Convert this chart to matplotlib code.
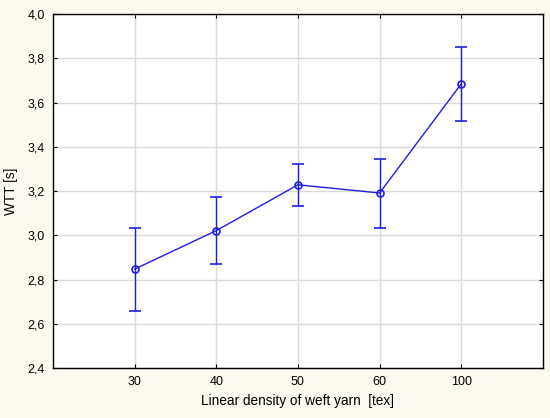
import matplotlib.pyplot as plt
from matplotlib.ticker import FuncFormatter

plt.rcParams['font.family'] = ['Liberation Sans', 'DejaVu Sans']

# data
categories = ['30', '40', '50', '60', '100']
wtt_mean = [2.847, 3.021, 3.228, 3.191, 3.684]
wtt_low = [2.659, 2.871, 3.132, 3.035, 3.517]
wtt_high = [3.032, 3.174, 3.323, 3.344, 3.852]

x = list(range(len(categories)))
err = [[m - lo for m, lo in zip(wtt_mean, wtt_low)],
       [hi - m for m, hi in zip(wtt_mean, wtt_high)]]

fig = plt.figure(figsize=(5.5, 4.18), dpi=100, facecolor='#fdf9ee')
ax = fig.add_axes([0.0964, 0.1196, 0.8906, 0.8469])
ax.set_facecolor('white')

line_col = '#1e1ee0'
ax.errorbar(x, wtt_mean, yerr=err, color=line_col, lw=1.0, elinewidth=1.0,
            capsize=4, capthick=1.0, marker='o', ms=5, mfc='none',
            mec=line_col, mew=1.2, zorder=3)

ax.set_xlim(-1, len(categories))
ax.set_ylim(2.4, 4.0)
ax.set_xticks(x)
ax.set_xticklabels(categories)
ax.set_yticks([2.4 + 0.2 * i for i in range(9)])
ax.yaxis.set_major_formatter(FuncFormatter(lambda v, p: f'{v:.1f}'.replace('.', ',')))

ax.grid(True, color='#dadada', lw=1.0)
ax.set_axisbelow(True)
for s in ax.spines.values():
    s.set_color('black')
    s.set_linewidth(1.0)
ax.tick_params(direction='in', length=3, width=0.8, labelsize=9,
               top=True, right=True, pad=6)

ax.set_xlabel('Linear density of weft yarn  [tex]', fontsize=9.8, labelpad=4)
ax.set_ylabel('WTT [s]', fontsize=9.8, labelpad=7)

fig.savefig('out.png', dpi=100, facecolor=fig.get_facecolor())
